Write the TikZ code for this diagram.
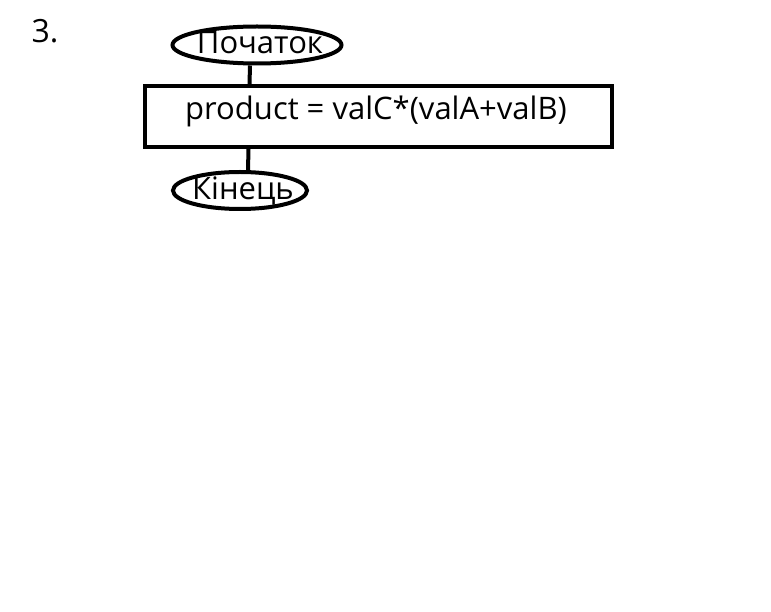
\documentclass[tikz,border=0pt]{standalone}
\usepackage{fontspec}
\setmainfont{Open Sans}
\usetikzlibrary{shapes.geometric}
\begin{document}
\begin{tikzpicture}[x=1pt,y=-1pt,line width=4pt,line cap=butt]
                \tikzset{label style/.style={font=\fontsize{31}{36}\selectfont,text height=22pt,text depth=0pt},
                         term style/.style={draw,ellipse,inner sep=0pt,minimum height=37pt,label style,text depth=4pt},
                         act style/.style={draw,rectangle,inner sep=0pt,minimum width=467pt,minimum height=61pt}}
                \def \thin#1{\makebox[0pt]{\hspace{6pt}#1}}
                \useasboundingbox (0,0) rectangle (771,612);
                \node[label style,font=\fontsize{32}{36}\selectfont] (num) at (45,32) {3.};
                \node[term style,minimum width=169pt] (start) at (257,45) {\thin{Початок}};
                \node[act style] (calc) at (378.5,116.5) {};
                \node[label style] (expr) at (376,109) {product = valC*(valA+valB)};
                \node[term style,minimum width=134pt] (finish) at (240,190.5) {\thin{Кінець}};
                \draw ([xshift=-7pt]start.south) -- ([xshift=-129pt]calc.north);
                \draw ([xshift=-130pt]calc.south) -- ([xshift=8pt]finish.north);
\end{tikzpicture}
\end{document}
